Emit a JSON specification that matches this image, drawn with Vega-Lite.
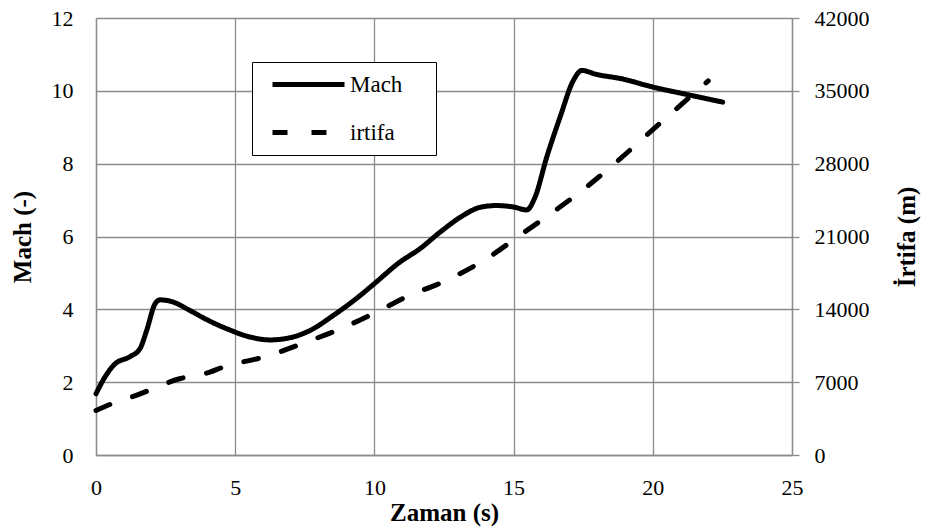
{
  "$schema": "https://vega.github.io/schema/vega-lite/v6.json",
  "width": 696,
  "height": 437,
  "autosize": {"type": "none"},
  "padding": {"left": 96, "top": 18, "right": 138, "bottom": 77},
  "background": "white",
  "datasets": {
    "mach": [
      {"t": 0, "v": 1.68, "s": "Mach"},
      {"t": 0.32, "v": 2.14, "s": "Mach"},
      {"t": 0.68, "v": 2.5, "s": "Mach"},
      {"t": 1.22, "v": 2.7, "s": "Mach"},
      {"t": 1.58, "v": 2.92, "s": "Mach"},
      {"t": 1.82, "v": 3.42, "s": "Mach"},
      {"t": 2.12, "v": 4.15, "s": "Mach"},
      {"t": 2.3, "v": 4.26, "s": "Mach"},
      {"t": 2.77, "v": 4.2, "s": "Mach"},
      {"t": 3.37, "v": 3.97, "s": "Mach"},
      {"t": 3.97, "v": 3.72, "s": "Mach"},
      {"t": 4.75, "v": 3.45, "s": "Mach"},
      {"t": 5.53, "v": 3.24, "s": "Mach"},
      {"t": 6.25, "v": 3.16, "s": "Mach"},
      {"t": 6.97, "v": 3.22, "s": "Mach"},
      {"t": 7.69, "v": 3.42, "s": "Mach"},
      {"t": 8.52, "v": 3.83, "s": "Mach"},
      {"t": 9.36, "v": 4.3, "s": "Mach"},
      {"t": 9.99, "v": 4.7, "s": "Mach"},
      {"t": 10.92, "v": 5.3, "s": "Mach"},
      {"t": 11.63, "v": 5.66, "s": "Mach"},
      {"t": 12.36, "v": 6.12, "s": "Mach"},
      {"t": 13.19, "v": 6.58, "s": "Mach"},
      {"t": 13.79, "v": 6.8, "s": "Mach"},
      {"t": 14.39, "v": 6.85, "s": "Mach"},
      {"t": 14.99, "v": 6.81, "s": "Mach"},
      {"t": 15.47, "v": 6.73, "s": "Mach"},
      {"t": 15.77, "v": 7.08, "s": "Mach"},
      {"t": 16.19, "v": 8.18, "s": "Mach"},
      {"t": 16.67, "v": 9.28, "s": "Mach"},
      {"t": 17.15, "v": 10.29, "s": "Mach"},
      {"t": 17.45, "v": 10.56, "s": "Mach"},
      {"t": 17.98, "v": 10.45, "s": "Mach"},
      {"t": 18.82, "v": 10.34, "s": "Mach"},
      {"t": 20.02, "v": 10.1, "s": "Mach"},
      {"t": 21.22, "v": 9.9, "s": "Mach"},
      {"t": 22.51, "v": 9.69, "s": "Mach"}
    ],
    "alt": [
      {"t": 0, "v": 4280, "s": "irtifa"},
      {"t": 0.62, "v": 4980, "s": "irtifa"},
      {"t": 1.34, "v": 5630, "s": "irtifa"},
      {"t": 3.0, "v": 7330, "s": "irtifa"},
      {"t": 4.09, "v": 7970, "s": "irtifa"},
      {"t": 4.57, "v": 8450, "s": "irtifa"},
      {"t": 6.11, "v": 9480, "s": "irtifa"},
      {"t": 7.55, "v": 10850, "s": "irtifa"},
      {"t": 8.88, "v": 12240, "s": "irtifa"},
      {"t": 10.14, "v": 13830, "s": "irtifa"},
      {"t": 11.4, "v": 15510, "s": "irtifa"},
      {"t": 12.18, "v": 16300, "s": "irtifa"},
      {"t": 12.83, "v": 17100, "s": "irtifa"},
      {"t": 14.03, "v": 18870, "s": "irtifa"},
      {"t": 15.23, "v": 21120, "s": "irtifa"},
      {"t": 16.42, "v": 23360, "s": "irtifa"},
      {"t": 17.62, "v": 25760, "s": "irtifa"},
      {"t": 18.7, "v": 28170, "s": "irtifa"},
      {"t": 19.78, "v": 30740, "s": "irtifa"},
      {"t": 20.86, "v": 33300, "s": "irtifa"},
      {"t": 21.99, "v": 35960, "s": "irtifa"}
    ]
  },
  "config": {
    "view": {"stroke": null},
    "axis": {"labelFont": "Liberation Serif", "titleFont": "Liberation Serif"},
    "legend": {
      "orient": "none",
      "legendX": 156,
      "legendY": 44,
      "strokeColor": "black",
      "fillColor": "white",
      "padding": 10,
      "rowPadding": 23,
      "symbolType": "M-0.2,0H7",
      "symbolSize": 400,
      "symbolStrokeWidth": 5,
      "symbolStrokeColor": "black",
      "symbolFillColor": "transparent",
      "labelFont": "Liberation Serif",
      "labelFontSize": 23,
      "labelColor": "black",
      "labelOffset": 63
    }
  },
  "encoding": {
    "x": {
      "field": "t",
      "type": "quantitative",
      "scale": {"domain": [0, 25], "nice": false, "zero": false},
      "axis": {
        "title": "Zaman (s)",
        "values": [0, 5, 10, 15, 20, 25],
        "ticks": false,
        "labelFont": "Liberation Serif",
        "labelFontSize": 22,
        "titleFont": "Liberation Serif",
        "titleFontSize": 25,
        "domainColor": "#8c8c8c",
        "domainWidth": 1.3,
        "gridColor": "#8c8c8c",
        "gridWidth": 1.3,
        "labelPadding": 22,
        "titlePadding": 2,
        "labelFlush": false
      }
    }
  },
  "layer": [
    {
      "data": {"name": "mach"},
      "mark": {"type": "line", "color": "black", "strokeWidth": 5, "interpolate": "monotone", "strokeCap": "round", "strokeJoin": "round"},
      "encoding": {
        "y": {
          "field": "v",
          "type": "quantitative",
          "scale": {"domain": [0, 12], "nice": false},
          "axis": {
            "title": "Mach (-)",
            "values": [0, 2, 4, 6, 8, 10, 12],
            "ticks": false,
            "labelFont": "Liberation Serif",
            "labelFontSize": 22,
            "titleFont": "Liberation Serif",
            "titleFontSize": 25,
            "domainColor": "#8c8c8c",
            "domainWidth": 1.3,
            "gridColor": "#8c8c8c",
            "gridWidth": 1.3,
            "labelPadding": 23,
            "titlePadding": 16
          }
        },
        "strokeDash": {
          "field": "s",
          "type": "nominal",
          "scale": {"domain": ["Mach", "irtifa"], "range": [[1, 0], [15, 24]]},
          "legend": {
            "title": "..",
            "titleOrient": "right",
            "titleColor": "transparent",
            "titleFontSize": 10,
            "titlePadding": 18
          }
        }
      }
    },
    {
      "data": {"name": "alt"},
      "mark": {"type": "line", "color": "black", "strokeWidth": 5, "interpolate": "monotone", "strokeCap": "round"},
      "encoding": {
        "y": {
          "field": "v",
          "type": "quantitative",
          "scale": {"domain": [0, 42000], "nice": false},
          "axis": {
            "orient": "right",
            "title": "İrtifa (m)",
            "titleAngle": 270,
            "values": [0, 7000, 14000, 21000, 28000, 35000, 42000],
            "format": "d",
            "grid": false,
            "tickSize": 7,
            "tickColor": "#8c8c8c",
            "tickWidth": 1.3,
            "labelFont": "Liberation Serif",
            "labelFontSize": 22,
            "titleFont": "Liberation Serif",
            "titleFontSize": 25,
            "domainColor": "#8c8c8c",
            "domainWidth": 1.3,
            "labelPadding": 15,
            "titlePadding": 50
          }
        },
        "strokeDash": {
          "field": "s",
          "type": "nominal",
          "scale": {"domain": ["Mach", "irtifa"], "range": [[1, 0], [15, 24]]}
        }
      }
    }
  ],
  "resolve": {"scale": {"y": "independent"}}
}
